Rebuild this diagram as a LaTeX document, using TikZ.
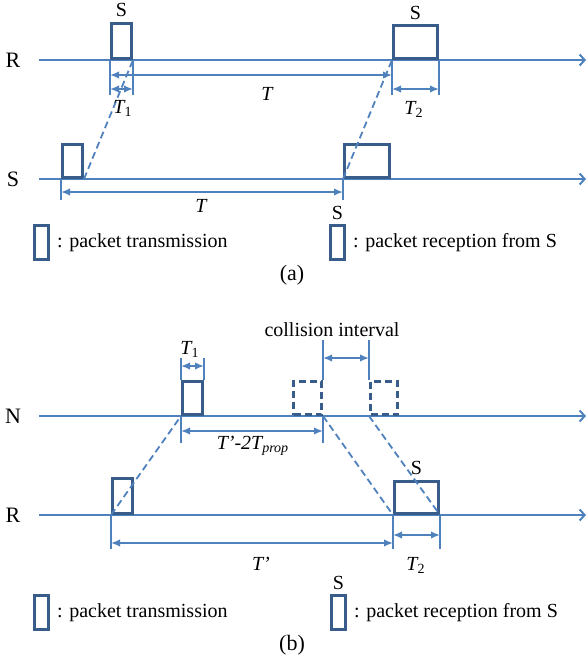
\documentclass[tikz,border=0pt]{standalone}
\usepackage{fontspec}
\setmainfont{Liberation Serif}
\usetikzlibrary{arrows.meta,positioning,calc}
\definecolor{lineblue}{RGB}{79,129,189}
\definecolor{boxblue}{RGB}{56,93,138}

\begin{document}
\begin{tikzpicture}[x=0.5pt,y=-0.5pt,font=\fontsize{10}{12}\selectfont,
  timeline/.style={draw=lineblue,line width=1pt,-{Straight Barb[length=2.5pt,width=5.5pt]}},
  tickline/.style={draw=lineblue,line width=1pt},
  span/.style={draw=lineblue,line width=1pt,{Latex[length=4.5pt,width=3.8pt]}-{Latex[length=4.5pt,width=3.8pt]}},
  prop/.style={draw=lineblue,line width=0.9pt,dash pattern=on 3.5pt off 2pt},
  pkt/.style={draw=boxblue,line width=1.5pt,inner sep=0pt,anchor=south west,minimum width=10pt},
  lost/.style={pkt,dash pattern=on 3.5pt off 2pt},
  wide/.style={minimum width=22pt},
  legendbox/.style={pkt,minimum width=7pt,minimum height=17pt},
  lab/.style={font=\fontsize{11}{13}\selectfont},
  srclab/.style={inner sep=0pt,font=\fontsize{10}{12}\selectfont},
  dur/.style={font=\fontsize{10}{12}\selectfont\itshape}]
\useasboundingbox (0,0) rectangle (587,660);

% (a)
\coordinate (aR0) at (39,60);  \coordinate (aR1) at (586,60);
\coordinate (aS0) at (39,179); \coordinate (aS1) at (586,179);
\node[lab] (aRlab) at (13,60) {R};
\node[lab] (aSlab) at (13,179) {S};
\draw[timeline] (aR0) -- (aR1);
\draw[timeline] (aS0) -- (aS1);

\node[pkt,minimum height=17.75pt] (ra1) at (110,60) {};
\node[pkt,wide,minimum height=16.5pt] (ra2) at (392,60) {};
\node[pkt,minimum height=16.75pt] (sa1) at (61,179) {};
\node[pkt,minimum width=22.5pt,minimum height=16.75pt] (sa2) at (343,179) {};
\node[srclab,above=2pt of ra1] (ra1src) {S};
\node[srclab,above=2pt of ra2] (ra2src) {S};

\foreach \p in {ra1.south west,ra1.south east,ra2.south west,ra2.south east}
  \draw[tickline] (\p) -- ++(0,35);
\draw[tickline] (sa1.south west) -- ++(0,21);
\draw[tickline] (sa2.south west) -- ++(0,21);

\draw[span] ($(ra1.south west)+(0,29)$) -- ($(ra1.south east)+(0,29)$);
\draw[span] ($(ra1.south west)+(0,15)$) -- ($(ra2.south west)+(0,15)$);
\draw[span] ($(ra2.south west)+(0,29)$) -- ($(ra2.south east)+(0,29)$);
\draw[span] ($(sa1.south west)+(0,13)$) -- ($(sa2.south west)+(0,13)$);

\draw[prop] (sa1.south east) -- (ra1.south east);
\draw[prop] (sa2.south west) -- (ra2.south west);

\node[dur] (aT1) at (123,108) {T\textsubscript{\upshape 1}};
\node[dur] (aT) at (267,94) {T};
\node[dur] (aT2) at (414,109) {T\textsubscript{\upshape 2}};
\node[dur] (aTs) at (201,206) {T};

\node[legendbox] (aKeyTx) at (33,261) {};
\node[right=0pt of aKeyTx] (aKeyTxText) {: packet transmission};
\node[legendbox] (aKeyRx) at (329,261) {};
\node[srclab,above=2pt of aKeyRx] (aKeyRxSrc) {S};
\node[right=0pt of aKeyRx] (aKeyRxText) {: packet reception from S};
\node[lab] (aCap) at (292,275) {(a)};

% (b)
\coordinate (bN0) at (39,416); \coordinate (bN1) at (586,416);
\coordinate (bR0) at (39,515); \coordinate (bR1) at (586,515);
\node[lab] (bNlab) at (13,416) {N};
\node[lab] (bRlab) at (13,515) {R};
\draw[timeline] (bN0) -- (bN1);
\draw[timeline] (bR0) -- (bR1);

\node[pkt,minimum height=16.75pt] (nb1) at (181,416) {};
\node[lost,minimum width=14pt,minimum height=16.75pt] (nc1) at (292,416) {};
\node[lost,minimum width=13.5pt,minimum height=16.75pt] (nc2) at (369,416) {};
\node[pkt,minimum height=17.75pt] (rb1) at (111,515) {};
\node[pkt,wide,minimum height=16.25pt] (rb2) at (393,515) {};
\node[srclab,above=2pt of rb2] (rb2src) {S};

\draw[tickline] (nb1.north west) -- ++(0,-22);
\draw[tickline] (nb1.north east) -- ++(0,-22);
\draw[tickline] (nb1.south west) -- ++(0,27);
\draw[tickline] (nc1.north east) -- ++(0,-39.5);
\draw[tickline] (nc1.south east) -- ++(0,27);
\draw[tickline] (nc2.north west) -- ++(0,-39.5);
\foreach \p in {rb1.south west,rb2.south west,rb2.south east}
  \draw[tickline] (\p) -- ++(0,34);

\draw[span] ($(nb1.north west)+(0,-13.5)$) -- ($(nb1.north east)+(0,-13.5)$);
\draw[span] ($(nc1.north east)+(0,-21.5)$) -- ($(nc2.north west)+(0,-21.5)$);
\draw[span] ($(nb1.south west)+(0,15)$) -- ($(nc1.south east)+(0,15)$);
\draw[span] ($(rb1.south west)+(0,28)$) -- ($(rb2.south west)+(0,28)$);
\draw[span] ($(rb2.south west)+(0,20)$) -- ($(rb2.south east)+(0,20)$);

\draw[prop] (rb1.south west) -- (nb1.south west);
\draw[prop] (nc1.south east) -- (rb2.south west);
\draw[prop] (nc2.south west) -- (rb2.south east);

\node (bColl) at (332,330) {collision interval};
\node[dur] (bT1) at (190,349) {T\textsubscript{\upshape 1}};
\node[dur] (bTgap) at (253,446) {T’-2T\textsubscript{prop}};
\node[dur] (bTp) at (261,564) {T’};
\node[dur] (bT2) at (416,565) {T\textsubscript{\upshape 2}};

\node[legendbox] (bKeyTx) at (33,631) {};
\node[right=0pt of bKeyTx] (bKeyTxText) {: packet transmission};
\node[legendbox] (bKeyRx) at (330,631) {};
\node[srclab,above=2pt of bKeyRx] (bKeyRxSrc) {S};
\node[right=0pt of bKeyRx] (bKeyRxText) {: packet reception from S};
\node[lab] (bCap) at (292,645) {(b)};
\end{tikzpicture}
\end{document}
